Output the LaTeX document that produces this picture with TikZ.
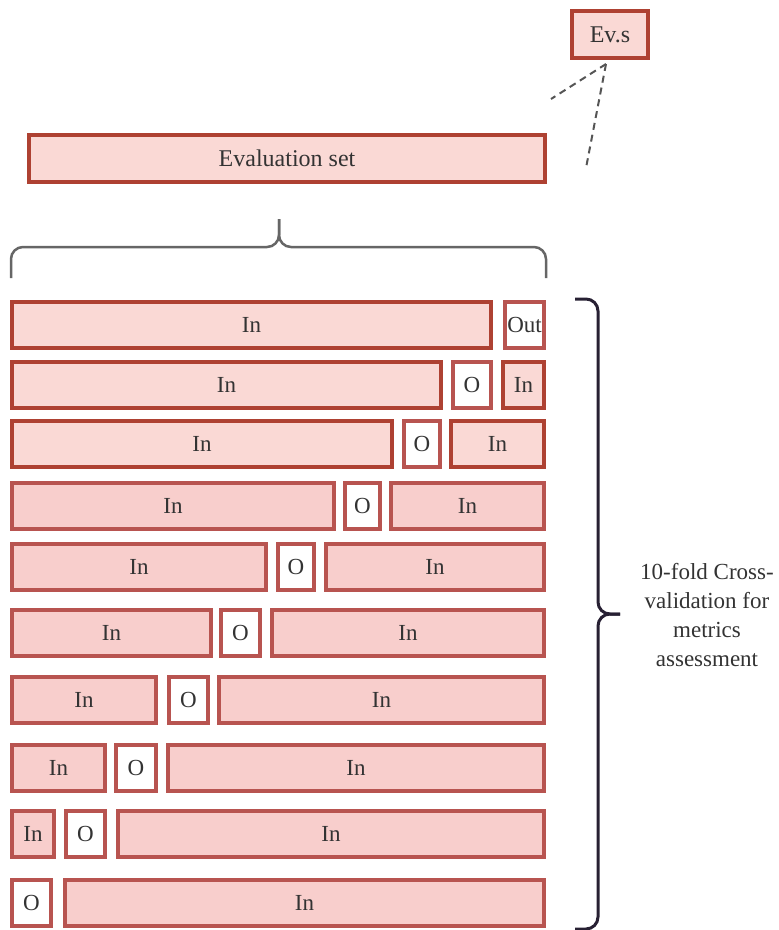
\documentclass[tikz,border=0pt]{standalone}
\usepackage{fontspec}
\setmainfont{Liberation Serif}
\definecolor{EvalFill}{HTML}{FAD9D5}
\definecolor{EvalLine}{HTML}{AE4132}
\definecolor{FoldFill}{HTML}{F8CECC}
\definecolor{FoldLine}{HTML}{B85450}
\definecolor{TxtClr}{HTML}{333333}
\definecolor{DashClr}{HTML}{555555}
\definecolor{BraceClr}{HTML}{666666}
\definecolor{FoldBrace}{HTML}{272033}

\begin{document}
\begin{tikzpicture}[x=1pt,y=-1pt,
  blk/.style={draw,line width=3.5pt,anchor=north west,minimum height=46pt,
    inner sep=0pt,outer sep=0pt,text=TxtClr,font=\fontsize{23}{28}\selectfont},
  evblk/.style={blk,fill=EvalFill,draw=EvalLine},
  inblk/.style={blk,fill=FoldFill,draw=FoldLine},
  outblk/.style={blk,fill=white,draw=FoldLine}]
\useasboundingbox (0,0) rectangle (779,930);

\node[evblk,minimum width=516pt,minimum height=47pt,font=\fontsize{24}{28}\selectfont] (evset) at (29,135) {Evaluation set};
\node[evblk,minimum width=76pt,minimum height=47pt,font=\fontsize{24}{28}\selectfont] (evs) at (572,11) {Ev.s};

\coordinate (evsA) at (551,99);
\coordinate (evsB) at (586,168);
\draw[DashClr,line width=2pt,dash pattern=on 7pt off 5pt] ([xshift=-4pt,yshift=-6pt]evs.south) -- (evsA);
\draw[DashClr,line width=2pt,dash pattern=on 7pt off 5pt] ([xshift=-4pt,yshift=-6pt]evs.south) -- (evsB);

% brace under the evaluation set
\draw[BraceClr,line width=2.5pt,rounded corners=12pt] (11,278) |- (279,247) -- (279,219);
\draw[BraceClr,line width=2.5pt,rounded corners=12pt] (546,278) |- (279,247) -- (279,219);

% fold 1
\node[evblk,minimum width=479pt] (in1a) at (12,302) {In};
\node[outblk,minimum width=39pt] (out1) at (505,302) {Out};
% fold 2
\node[evblk,minimum width=429pt] (in2a) at (12,362) {In};
\node[outblk,minimum width=38pt] (out2) at (453,362) {O};
\node[evblk,minimum width=41pt] (in2b) at (503,362) {In};
% fold 3
\node[evblk,minimum width=380pt] (in3a) at (12,421) {In};
\node[outblk,minimum width=36pt] (out3) at (404,421) {O};
\node[evblk,minimum width=93pt] (in3b) at (451,421) {In};
% fold 4
\node[inblk,minimum width=322pt] (in4a) at (12,483) {In};
\node[outblk,minimum width=35pt] (out4) at (345,483) {O};
\node[inblk,minimum width=153pt] (in4b) at (391,483) {In};
% fold 5
\node[inblk,minimum width=254pt] (in5a) at (12,544) {In};
\node[outblk,minimum width=36pt] (out5) at (278,544) {O};
\node[inblk,minimum width=218pt] (in5b) at (326,544) {In};
% fold 6
\node[inblk,minimum width=199pt] (in6a) at (12,610) {In};
\node[outblk,minimum width=39pt] (out6) at (221,610) {O};
\node[inblk,minimum width=272pt] (in6b) at (272,610) {In};
% fold 7
\node[inblk,minimum width=144pt] (in7a) at (12,677) {In};
\node[outblk,minimum width=39pt] (out7) at (169,677) {O};
\node[inblk,minimum width=325pt] (in7b) at (219,677) {In};
% fold 8
\node[inblk,minimum width=93pt] (in8a) at (12,745) {In};
\node[outblk,minimum width=40pt] (out8) at (116,745) {O};
\node[inblk,minimum width=376pt] (in8b) at (168,745) {In};
% fold 9
\node[inblk,minimum width=42pt] (in9a) at (12,811) {In};
\node[outblk,minimum width=39pt] (out9) at (66,811) {O};
\node[inblk,minimum width=426pt] (in9b) at (118,811) {In};
% fold 10
\node[outblk,minimum width=39pt] (out10) at (12,880) {O};
\node[inblk,minimum width=479pt] (in10b) at (65,880) {In};

% brace round the folds
\draw[FoldBrace,line width=3pt,rounded corners=12pt] (575,299) -| (598,614) -- (620,614);
\draw[FoldBrace,line width=3pt,rounded corners=12pt] (575,929) -| (598,614) -- (620,614);

\node[align=center,text=TxtClr,font=\fontsize{23}{29}\selectfont] (cvlbl) at (707,615)
  {10-fold Cross-\\validation for\\metrics\\assessment};

\end{tikzpicture}
\end{document}
